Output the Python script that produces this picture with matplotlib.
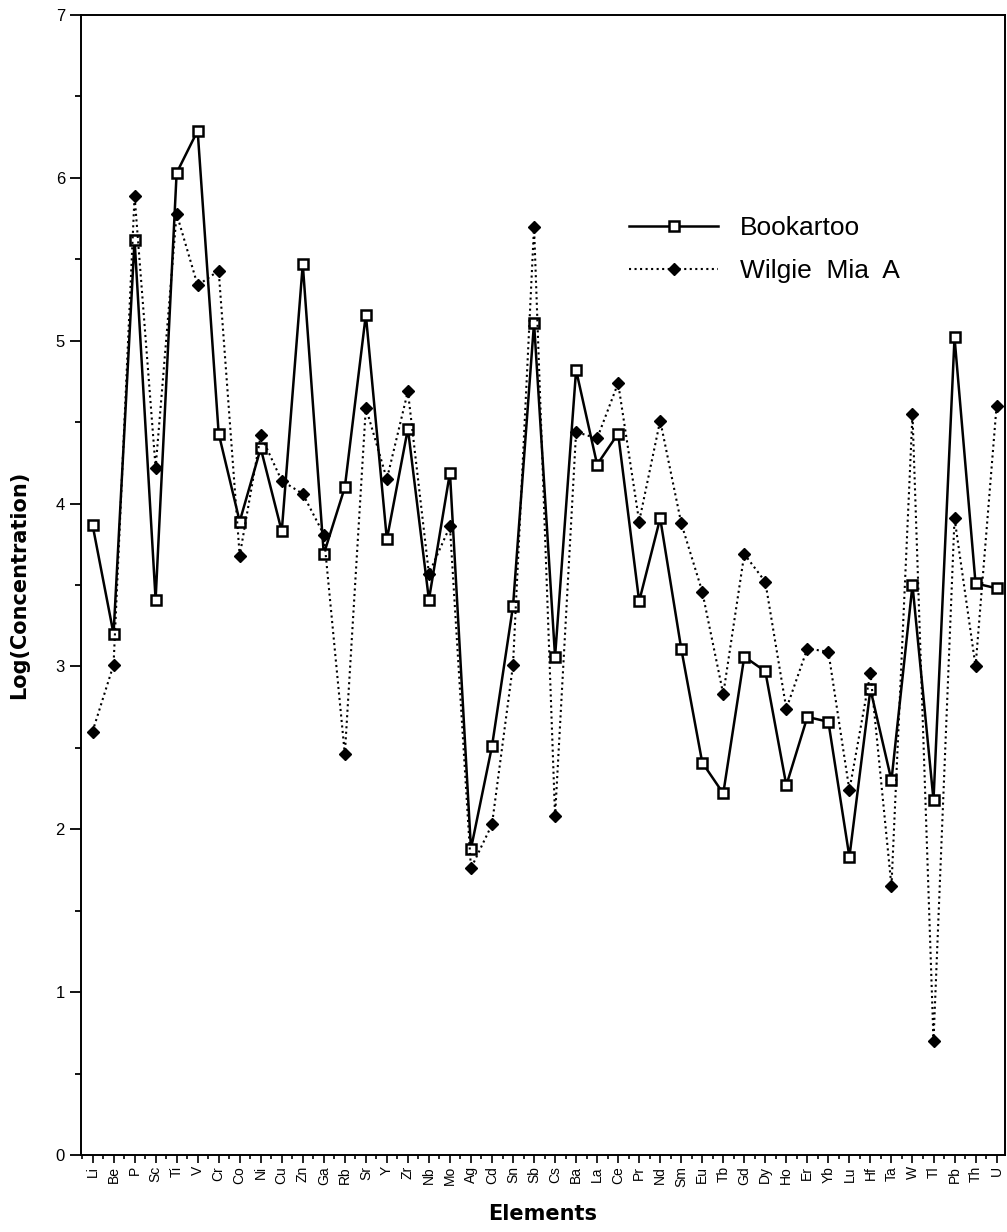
import matplotlib
matplotlib.use("Agg")
import matplotlib.pyplot as plt
from matplotlib.ticker import MultipleLocator

plt.rcParams['font.family'] = ['Liberation Sans', 'DejaVu Sans']

# element names along the x axis
elements = ['Li', 'Be', 'P', 'Sc', 'Ti', 'V', 'Cr', 'Co', 'Ni', 'Cu', 'Zn',
            'Ga', 'Rb', 'Sr', 'Y', 'Zr', 'Nb', 'Mo', 'Ag', 'Cd', 'Sn', 'Sb',
            'Cs', 'Ba', 'La', 'Ce', 'Pr', 'Nd', 'Sm', 'Eu', 'Tb', 'Gd', 'Dy',
            'Ho', 'Er', 'Yb', 'Lu', 'Hf', 'Ta', 'W', 'Tl', 'Pb', 'Th', 'U']

# log concentrations
bookartoo = [3.87, 3.20, 5.62, 3.41, 6.03, 6.29, 4.43, 3.89, 4.34, 3.83, 5.47,
             3.69, 4.10, 5.16, 3.78, 4.46, 3.41, 4.19, 1.88, 2.51, 3.37, 5.11,
             3.06, 4.82, 4.24, 4.43, 3.40, 3.91, 3.11, 2.41, 2.22, 3.06, 2.97,
             2.27, 2.69, 2.66, 1.83, 2.86, 2.30, 3.50, 2.18, 5.02, 3.51, 3.48]
wilgie = [2.60, 3.01, 5.89, 4.22, 5.78, 5.34, 5.43, 3.68, 4.42, 4.14, 4.06,
          3.81, 2.46, 4.59, 4.15, 4.69, 3.57, 3.86, 1.76, 2.03, 3.01, 5.70,
          2.08, 4.44, 4.40, 4.74, 3.89, 4.51, 3.88, 3.46, 2.83, 3.69, 3.52,
          2.74, 3.11, 3.09, 2.24, 2.96, 1.65, 4.55, 0.70, 3.91, 3.00, 4.60]

x = list(range(len(elements)))

fig = plt.figure(figsize=(10.07, 12.32), dpi=100)
ax = fig.add_axes([0.0804, 0.0625, 0.9176, 0.9253])

ax.plot(x, bookartoo, color='black', linestyle='-', linewidth=1.8,
        marker='s', markersize=7, markerfacecolor='white',
        markeredgecolor='black', markeredgewidth=1.8, label='Bookartoo')
ax.plot(x, wilgie, color='black', linestyle=':', linewidth=1.5,
        marker='D', markersize=6.5, markerfacecolor='black',
        markeredgecolor='black', label='Wilgie  Mia  A')

ax.set_xlim(-0.55, 43.4)
ax.set_ylim(0, 7)
ax.yaxis.set_major_locator(MultipleLocator(1))
ax.yaxis.set_minor_locator(MultipleLocator(0.5))
ax.set_xticks(x)
ax.set_xticklabels(elements, rotation=90, fontsize=10)
ax.xaxis.set_minor_locator(MultipleLocator(0.5))

ax.tick_params(axis='y', which='major', direction='out', length=8, width=1.3,
               labelsize=12)
ax.tick_params(axis='y', which='minor', direction='out', length=4, width=1.3)
ax.tick_params(axis='x', which='major', direction='out', length=6, width=1.2,
               pad=2)
ax.tick_params(axis='x', which='minor', direction='out', length=3, width=1.2)

for s in ax.spines.values():
    s.set_linewidth(1.4)

ax.set_ylabel('Log(Concentration)', fontsize=15, fontweight='bold',
              family='DejaVu Sans', labelpad=19)
ax.set_xlabel('Elements', fontsize=15, fontweight='bold',
              family='DejaVu Sans', labelpad=12)

ax.legend(loc='upper left', bbox_to_anchor=(0.5785, 0.835), frameon=False,
          fontsize=19, handlelength=3.4, handletextpad=0.8, labelspacing=0.72,
          borderpad=0)

fig.savefig('out.png', dpi=100)
